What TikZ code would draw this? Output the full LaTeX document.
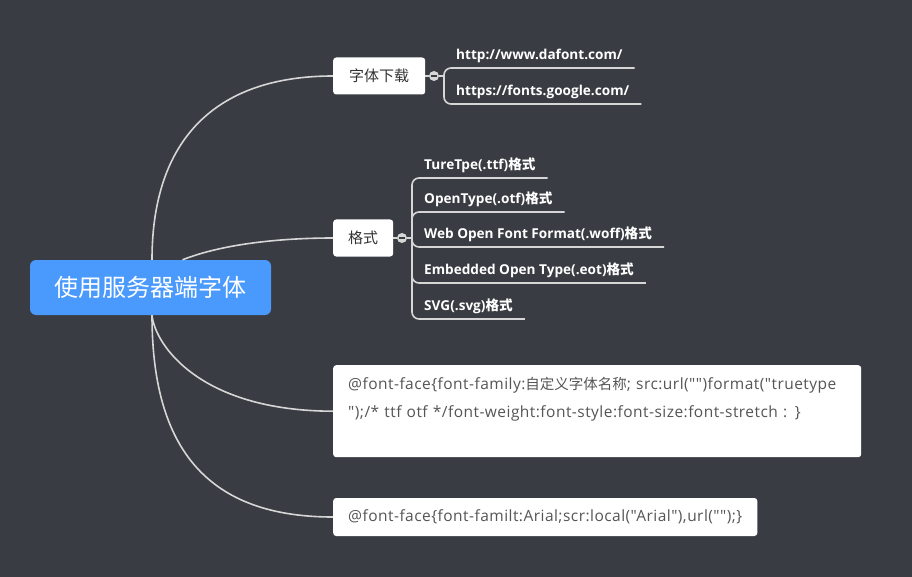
\documentclass[tikz,border=0pt]{standalone}
\usepackage{fontspec}
\newfontfamily\latinfont{Open Sans}
\newfontfamily\codefont{Open Sans}[LetterSpace=3]
\newfontfamily\cjkfont{Noto Sans CJK SC}
\usetikzlibrary{positioning}
\definecolor{bg}{RGB}{57,60,66}
\definecolor{rootblue}{RGB}{74,153,252}
\definecolor{linegray}{RGB}{214,214,214}
\definecolor{topictext}{RGB}{51,51,51}
\definecolor{codetext}{RGB}{85,85,85}

\begin{document}
\begin{tikzpicture}[x=1pt, y=-1pt,
    rootbox/.style={fill=rootblue, rounded corners=6pt, text=white, font=\cjkfont\fontsize{24}{28}\selectfont},
    topic/.style={fill=white, rounded corners=3pt, text=topictext, font=\cjkfont\fontsize{15}{18}\selectfont, minimum height=37pt, inner xsep=0pt},
    codebox/.style={fill=white, rounded corners=3pt, text=codetext, font=\codefont\fontsize{15.5}{28}\selectfont, inner xsep=15pt, align=left},
    leaf/.style={text=white, font=\latinfont\bfseries\fontsize{13.6}{16}\selectfont, inner xsep=12pt, inner ysep=4pt, text depth=4pt, anchor=south west},
    branch/.style={draw=linegray, line width=1.6pt},
    fold/.style={circle, fill=linegray, minimum size=10pt, inner sep=0pt}]

    \fill [bg] (0, 0) rectangle (912, 577);
    \useasboundingbox (0, 0) rectangle (912, 577);

    % central topic
    \node [rootbox, minimum width=241pt, minimum height=55pt] (root) at (150.5, 287.5) {使用服务器端字体};

    % main topics
    \node [topic, minimum width=92pt, anchor=west] (dl) at (333, 76) {字体下载};
    \node [topic, minimum width=60pt, anchor=west] (fmt) at (333, 238) {格式};
    \node [codebox, anchor=north west, text width=498pt, minimum height=92pt] (css) at (333, 365)
        {@font-face\{font-family:{\cjkfont\fontsize{14.5}{28}\selectfont 自定义字体名称}; src:url("")format("truetype\\
         ");/* ttf otf */font-weight:font-style:font-size:font-stretch : \}\\ \mbox{}};
    \node [codebox, anchor=west, minimum height=38pt] (face) at (333, 517)
        {@font-face\{font-familt:Arial;scr:local("Arial"),url("");\}};

    \draw [branch] ([xshift=1.5pt]root.north) .. controls (152, 140) and (215, 76) .. (dl.west);
    \draw [branch] ([xshift=32pt]root.north) .. controls (225, 243) and (285, 238) .. (fmt.west);
    \draw [branch] ([xshift=1.5pt]root.south) .. controls (155, 345) and (200, 411) .. (css.west);
    \draw [branch] ([xshift=1.5pt]root.south) .. controls (152, 440) and (200, 517) .. (face.west);

    % download links
    \node [fold] (dl-c) at (434, 76) {};
    \coordinate (dl-j) at (444, 76);
    \node [leaf] (dl1) at (444, 68) {http://www.dafont.com/};
    \node [leaf] (dl2) at (444, 104) {https://fonts.google.com/};
    \draw [branch] (dl) -- (dl-c);
    \draw [branch] (dl-c) -- (dl-j);
    \foreach \n in {dl1, dl2}
        \draw [branch, rounded corners=7pt] (dl-j) |- (\n.south east);
    \draw [bg, line width=1.4pt] ([xshift=-3pt]dl-c.center) -- ([xshift=3pt]dl-c.center);

    % font formats
    \node [fold] (fmt-c) at (402, 238) {};
    \coordinate (fmt-j) at (412, 238);
    \foreach \y/\n/\t in {178/fmt1/TureTpe(.ttf), 212/fmt2/OpenType(.otf),
                          247/fmt3/Web Open Font Format(.woff),
                          283/fmt4/Embedded Open Type(.eot), 319/fmt5/SVG(.svg)} {
        \node [leaf] (\n) at (412, \y) {\t{\cjkfont 格式}};
        \draw [branch, rounded corners=7pt] (fmt-j) |- (\n.south east);
    }
    \draw [branch] (fmt) -- (fmt-c);
    \draw [branch] (fmt-c) -- (fmt-j);
    \draw [bg, line width=1.4pt] ([xshift=-3pt]fmt-c.center) -- ([xshift=3pt]fmt-c.center);
\end{tikzpicture}
\end{document}
